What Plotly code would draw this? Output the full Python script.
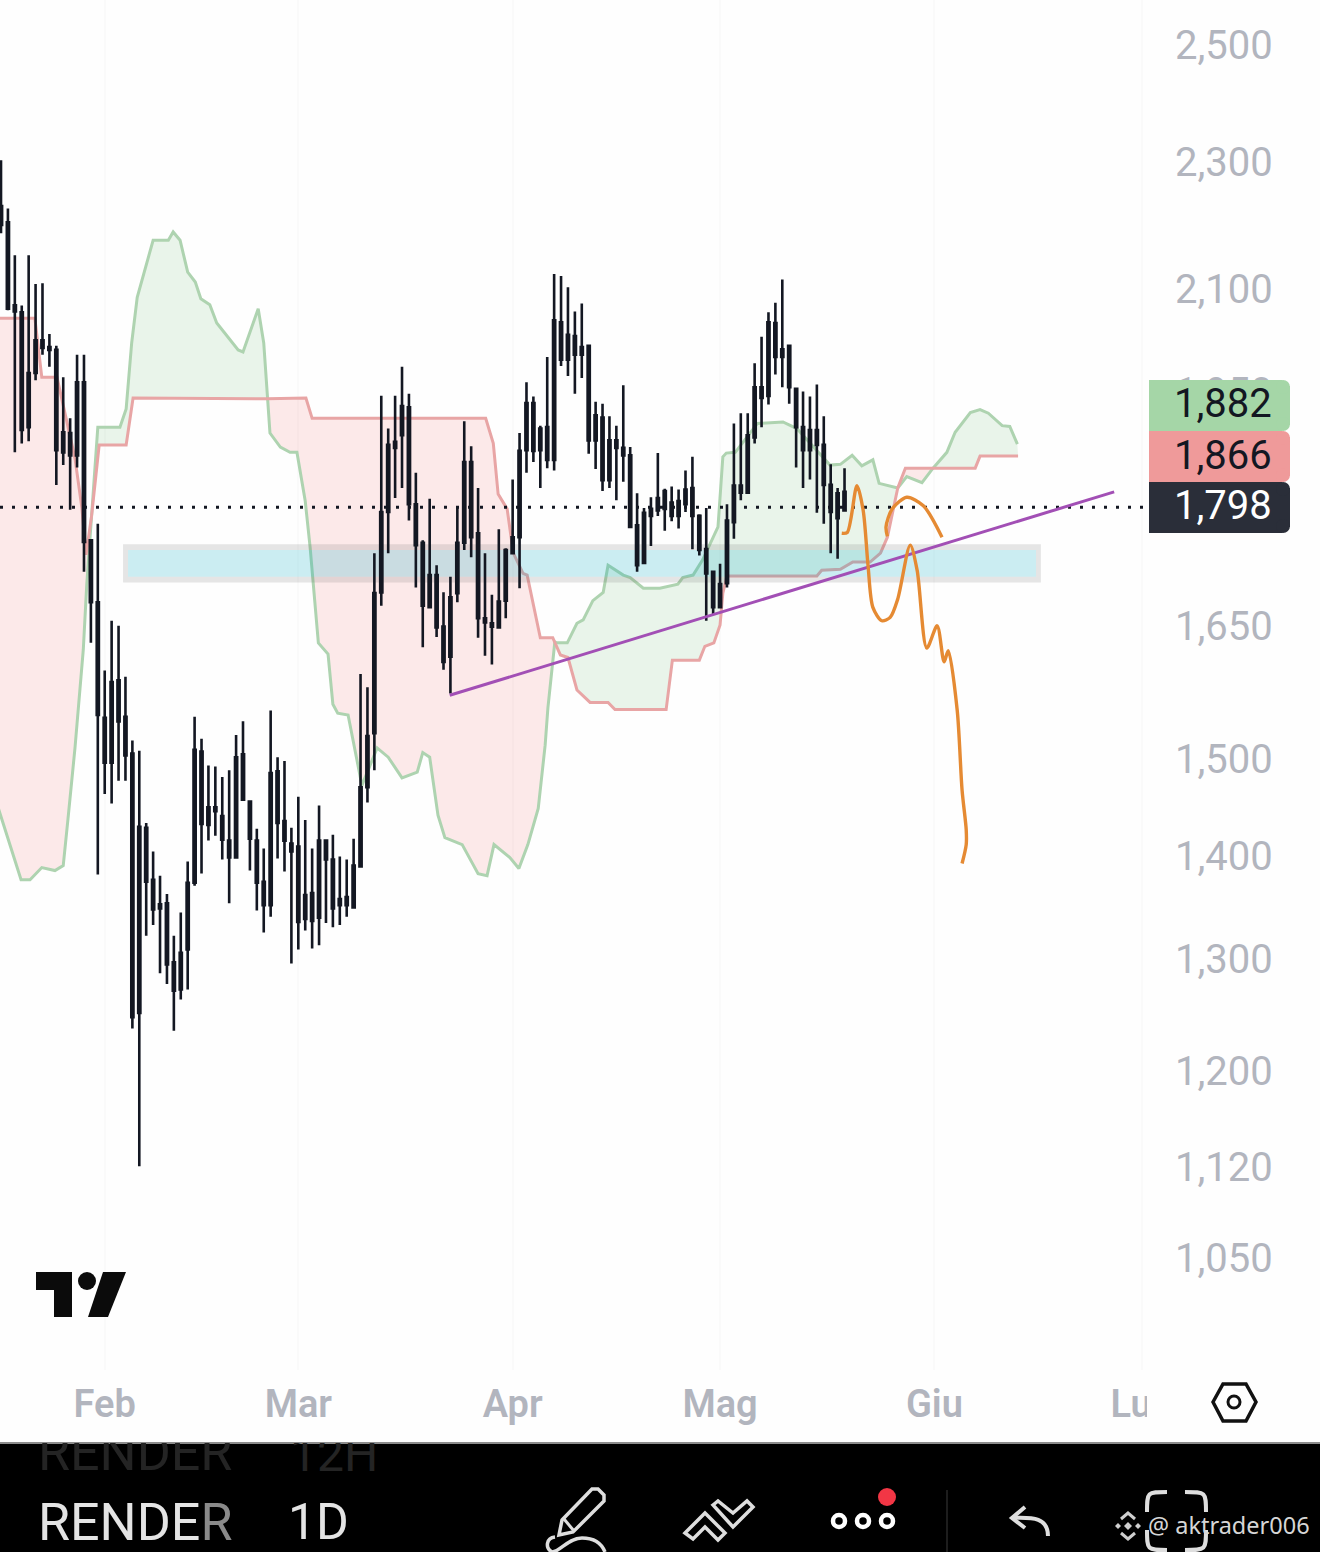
import pandas as pd
import plotly.graph_objects as go

start_day = pd.Timestamp("2025-01-17")

# daily candles (monochrome, so body_top/body_bottom instead of open/close)
highs = [2302, 2224, 2151, 2075, 2151, 2107, 2108, 2033, 2016, 1971, 1914, 2003, 2003, 1754, 1775, 1598, 1656, 1650, 1591, 1520, 1509, 1433, 1404, 1380, 1362, 1322, 1344, 1394, 1546, 1522, 1493, 1492, 1481, 1488, 1526, 1541, 1455, 1427, 1407, 1553, 1502, 1498, 1428, 1460, 1436, 1407, 1451, 1416, 1421, 1399, 1396, 1417, 1594, 1579, 1738, 1945, 1900, 1945, 1986, 1948, 1841, 1754, 1807, 1723, 1690, 1709, 1795, 1910, 1876, 1821, 1738, 1687, 1768, 1744, 1832, 1894, 1964, 1944, 1904, 2000, 2122, 2119, 2102, 2066, 2078, 2016, 1937, 1934, 1917, 1904, 1960, 1875, 1814, 1795, 1809, 1867, 1820, 1823, 1819, 1844, 1862, 1787, 1795, 1715, 1725, 1800, 1907, 1921, 1921, 1991, 2029, 2065, 2079, 2114, 2016, 1955, 1951, 1944, 1961, 1917, 1852, 1821, 1847]
body_top = [2228, 2202, 2075, 2065, 1977, 2024, 2024, 2014, 2010, 1895, 1894, 1964, 1964, 1754, 1678, 1545, 1585, 1587, 1546, 1506, 1429, 1428, 1376, 1352, 1353, 1297, 1306, 1373, 1510, 1508, 1449, 1449, 1440, 1415, 1502, 1505, 1455, 1415, 1374, 1485, 1487, 1435, 1412, 1409, 1361, 1363, 1415, 1415, 1396, 1357, 1359, 1390, 1470, 1525, 1689, 1790, 1878, 1882, 1931, 1929, 1800, 1751, 1711, 1711, 1649, 1684, 1751, 1855, 1855, 1763, 1659, 1653, 1679, 1742, 1758, 1870, 1935, 1935, 1900, 1902, 2053, 2050, 2032, 2030, 2014, 2016, 1918, 1915, 1884, 1884, 1874, 1864, 1773, 1789, 1794, 1808, 1817, 1802, 1804, 1819, 1821, 1785, 1743, 1715, 1700, 1779, 1824, 1824, 1891, 1957, 1957, 2050, 2049, 2011, 2016, 1955, 1902, 1898, 1898, 1878, 1825, 1814, 1816]
body_bottom = [2198, 2070, 2066, 1898, 1902, 1977, 2013, 2010, 1871, 1868, 1864, 1864, 1752, 1678, 1548, 1496, 1496, 1541, 1504, 1247, 1251, 1374, 1347, 1348, 1295, 1271, 1272, 1309, 1373, 1432, 1431, 1445, 1416, 1398, 1398, 1457, 1417, 1373, 1351, 1351, 1433, 1415, 1404, 1335, 1338, 1336, 1339, 1396, 1348, 1351, 1351, 1349, 1389, 1470, 1528, 1690, 1790, 1874, 1891, 1800, 1748, 1674, 1672, 1648, 1608, 1614, 1689, 1751, 1758, 1659, 1654, 1649, 1648, 1680, 1738, 1758, 1871, 1870, 1871, 1858, 1858, 1996, 1996, 2003, 2003, 1884, 1884, 1831, 1831, 1874, 1864, 1771, 1723, 1726, 1785, 1792, 1794, 1785, 1785, 1800, 1785, 1742, 1713, 1672, 1672, 1701, 1777, 1815, 1815, 1888, 1942, 1945, 2000, 2000, 1957, 1902, 1871, 1871, 1878, 1825, 1790, 1782, 1792]
lows = [2185, 2068, 1868, 1880, 1883, 1967, 2003, 1986, 1825, 1851, 1793, 1848, 1715, 1630, 1381, 1463, 1453, 1477, 1477, 1237, 1121, 1322, 1332, 1287, 1277, 1235, 1263, 1272, 1370, 1382, 1415, 1420, 1396, 1353, 1398, 1456, 1385, 1346, 1325, 1340, 1397, 1384, 1296, 1309, 1327, 1310, 1313, 1334, 1330, 1332, 1340, 1349, 1389, 1454, 1488, 1674, 1738, 1808, 1821, 1779, 1696, 1625, 1671, 1637, 1599, 1572, 1678, 1742, 1733, 1636, 1615, 1605, 1648, 1659, 1738, 1695, 1841, 1855, 1821, 1847, 1844, 1987, 1973, 1948, 1970, 1866, 1846, 1817, 1821, 1805, 1829, 1771, 1715, 1726, 1747, 1785, 1766, 1778, 1769, 1790, 1743, 1735, 1656, 1663, 1671, 1696, 1756, 1805, 1813, 1880, 1902, 1933, 1975, 1957, 1934, 1848, 1821, 1832, 1789, 1775, 1738, 1731, 1792]

# cloud edges, as days after start_day and price
span_a_days = [-1, 1.3, 2.9, 4.2, 5.9, 7.8, 9.0, 9.7, 10.7, 11.9, 12.4, 13.1, 14.0, 17.2, 18.1, 18.9, 19.7, 22.0, 24.2, 24.9, 25.9, 27.0, 28.1, 28.9, 30.2, 31.2, 34.3, 35.0, 37.2, 38.0, 38.5, 38.9, 40.4, 41.8, 42.8, 44.0, 44.7, 45.9, 47.3, 48.0, 48.7, 50.2, 52.2, 54.4, 56.0, 58.0, 60.2, 61.0, 62.0, 63.2, 64.2, 66.7, 69.0, 70.3, 71.3, 73.6, 74.9, 76.2, 77.7, 78.7, 79.1, 80.0, 80.1, 80.4, 81.9, 83.3, 84.2, 85.6, 87.1, 87.8, 90.0, 91.0, 92.9, 95.3, 96.8, 97.9, 98.6, 100.1, 101.5, 103.7, 104.4, 104.9, 106.2, 109.4, 113.1, 115.1, 119.9, 121.4, 123.1, 124.5, 126.1, 127.0, 129.7, 131.0, 133.2, 134.8, 136.8, 138.0, 140.2, 141.6, 142.8, 144.8, 145.9, 147.0]
span_a = [1462, 1412, 1376, 1376, 1388, 1385, 1390, 1438, 1512, 1622, 1699, 1785, 1902, 1902, 1927, 2020, 2087, 2174, 2174, 2187, 2174, 2125, 2110, 2085, 2076, 2049, 2010, 2007, 2070, 2020, 1941, 1894, 1875, 1868, 1868, 1804, 1746, 1630, 1617, 1560, 1550, 1548, 1472, 1512, 1502, 1480, 1486, 1507, 1502, 1441, 1418, 1411, 1382, 1380, 1411, 1398, 1387, 1411, 1448, 1515, 1556, 1625, 1631, 1630, 1630, 1653, 1657, 1680, 1690, 1723, 1711, 1708, 1695, 1695, 1698, 1700, 1708, 1711, 1730, 1771, 1862, 1867, 1868, 1907, 1909, 1900, 1851, 1852, 1864, 1850, 1858, 1827, 1821, 1836, 1828, 1847, 1868, 1895, 1922, 1926, 1921, 1904, 1903, 1879]
span_b_days = [-1, 4.9, 5.9, 8.1, 10.7, 11.7, 12.3, 13.1, 14.2, 18.1, 19.1, 38.5, 44.1, 45.0, 70.1, 71.2, 71.9, 73.2, 74.1, 75.5, 76.1, 78.0, 79.8, 80.1, 80.9, 82.0, 83.3, 85.2, 87.8, 88.8, 96.2, 97.1, 101.0, 101.8, 103.1, 104.0, 104.4, 105.0, 118.0, 118.7, 121.4, 123.2, 125.7, 127.2, 128.2, 129.7, 130.8, 134.8, 140.9, 141.6, 147.1]
span_b = [2056, 2056, 1971, 1971, 1860, 1795, 1736, 1785, 1878, 1878, 1942, 1941, 1942, 1914, 1914, 1880, 1813, 1794, 1738, 1713, 1711, 1636, 1636, 1631, 1616, 1613, 1576, 1562, 1562, 1554, 1554, 1610, 1610, 1626, 1630, 1651, 1689, 1710, 1710, 1717, 1718, 1727, 1727, 1738, 1758, 1821, 1847, 1847, 1847, 1863, 1863]
# where the two edges cross
cross_days = [-1, 13.1, 38.5, 80.1, 129.7, 134.8, 147.1]
cross_a_on_top = [False, True, False, True, False, True]

# drawings
zone_days = [18.37, 149.7]
zone_prices = [1709, 1742]
zone_edge_days = [17.65, 150.4]
zone_edge_prices = [1702, 1749]
trend_days = [64.9, 161.0]
trend_prices = [1570, 1816]
path1_days = [121.6, 122.4, 123.8, 124.7, 125.4, 126.1, 127.4, 128.6, 129.7, 131.5, 132.5, 133.9, 135.4, 136.4, 137.0, 138.3, 139.0, 139.6, 139.6, 139.0]
path1_prices = [1763, 1764, 1824, 1792, 1723, 1672, 1656, 1660, 1682, 1748, 1717, 1624, 1650, 1608, 1621, 1553, 1467, 1426, 1411, 1392]
path2_days = [128.2, 128.0, 128.9, 131.0, 133.4, 136.1]
path2_prices = [1759, 1771, 1794, 1809, 1798, 1758]
last_price = 1796

price_ticks = [2500, 2300, 2100, 1950, 1650, 1500, 1400, 1300, 1200, 1120, 1050]
month_ticks = ["2025-02-01", "2025-03-01", "2025-04-01", "2025-05-01", "2025-06-01", "2025-07-01"]
month_labels = ["Feb", "Mar", "Apr", "Mag", "Giu", "Lug"]
tag_labels = ["1,882", "1,866", "1,798"]

W, H = 1320, 1552
PLOT_W, PLOT_H = 1145, 1370
X_RANGE = ["2025-01-16 20:30", "2025-07-01 11:00"]
Y_RANGE = [2.9863, 3.4119]
GREY = "#b2b5be"
ICON = "#dedede"


def to_dates(days):
    return [start_day + pd.Timedelta(days=float(d)) for d in days]


def between(days, vals, lo, hi):
    pairs = [(d, v) for d, v in zip(days, vals) if lo <= d <= hi]
    return [p[0] for p in pairs], [p[1] for p in pairs]


def rect_loop(days, prices):
    return ([days[0], days[1], days[1], days[0], days[0]],
            [prices[0], prices[0], prices[1], prices[1], prices[0]])


# chrome helpers: screen pixels to paper fractions
def px(x):
    return round(x / PLOT_W, 5)


def py(y):
    return round((PLOT_H - y) / PLOT_H, 5)


def svg(points, close=False):
    path = "M " + " L ".join(f"{px(p[0])},{py(p[1])}" for p in points)
    return path + " Z" if close else path


def curve(*pts):
    # one cubic bezier path
    c = [f"{px(x)},{py(y)}" for x, y in pts]
    return "M " + c[0] + " C " + " ".join(c[1:])


def path_shape(path, fill=None, color=None, width=0):
    return dict(type="path", xref="paper", yref="paper", path=path, fillcolor=fill or "rgba(0,0,0,0)",
                line=dict(color=color or "rgba(0,0,0,0)", width=width))


def box(x0, y0, x1, y1, fill):
    return dict(type="rect", xref="paper", yref="paper", x0=px(x0), x1=px(x1), y0=py(y0), y1=py(y1),
                fillcolor=fill, line=dict(width=0))


def dot(cx, cy, r, fill=None, color=None, width=0):
    return dict(type="circle", xref="paper", yref="paper", x0=px(cx - r), x1=px(cx + r), y0=py(cy + r), y1=py(cy - r),
                fillcolor=fill or "rgba(0,0,0,0)", line=dict(color=color or "rgba(0,0,0,0)", width=width))


def label(x, y, text, size, color, family="Roboto", anchor="left"):
    return dict(xref="paper", yref="paper", x=px(x), y=py(y), text=text, showarrow=False, xanchor=anchor,
                yanchor="middle", font=dict(family=family, size=size, color=color), borderpad=0, borderwidth=0)


def ghost(x, text, size, box_w):
    # previous toolbar row scrolled away: clipped by the top of the footer
    return dict(xref="paper", yref="paper", x=px(x), y=py(1443), text=text, showarrow=False, xanchor="left",
                yanchor="top", height=40, width=box_w, valign="bottom", align="left",
                font=dict(family="Roboto", size=size, color="#242424"), borderpad=0, borderwidth=0)


fig = go.Figure()

# cloud fills, one polygon per stretch between crossings
for k, a_top in enumerate(cross_a_on_top):
    lo, hi = cross_days[k], cross_days[k + 1]
    da, va = between(span_a_days, span_a, lo, hi)
    db, vb = between(span_b_days, span_b, lo, hi)
    fig.add_trace(go.Scatter(x=to_dates(da + db[::-1]), y=va + vb[::-1], mode="lines", fill="toself",
                             line=dict(width=0), hoverinfo="skip",
                             fillcolor="rgba(67,160,71,0.11)" if a_top else "rgba(239,83,80,0.12)"))

fig.add_trace(go.Scatter(x=to_dates(span_a_days), y=span_a, mode="lines", line=dict(color="#aed3b0", width=3)))
fig.add_trace(go.Scatter(x=to_dates(span_b_days), y=span_b, mode="lines", line=dict(color="#e8a5a5", width=3)))

# rectangle drawing: soft fill plus a grey ring around it
in_x, in_y = rect_loop(zone_days, zone_prices)
out_x, out_y = rect_loop(zone_edge_days, zone_edge_prices)
fig.add_trace(go.Scatter(x=to_dates(in_x), y=in_y, mode="lines", fill="toself",
                         fillcolor="rgba(0,172,193,0.2)", line=dict(width=0)))
fig.add_trace(go.Scatter(x=to_dates(out_x + in_x[::-1] + out_x[:1]), y=out_y + in_y[::-1] + out_y[:1], mode="lines",
                         fill="toself", fillcolor="rgba(90,90,90,0.15)", line=dict(width=0)))

fig.add_trace(go.Scatter(x=X_RANGE, y=[last_price, last_price], mode="lines",
                         line=dict(color="#131722", width=3, dash="3px,9px")))

dates = pd.date_range(start_day, periods=len(highs), freq="D")
candle_style = dict(line=dict(color="#131722", width=2.6), fillcolor="#2a2e39")
fig.add_trace(go.Candlestick(x=dates, open=body_bottom, high=highs, low=lows, close=body_top,
                             increasing=candle_style, decreasing=candle_style, whiskerwidth=0,
                             xaxis="x2", yaxis="y2"))

fig.add_trace(go.Scatter(x=to_dates(trend_days), y=trend_prices, mode="lines", xaxis="x3", yaxis="y3",
                         line=dict(color="#a24fb5", width=3)))
for d, p in ((path1_days, path1_prices), (path2_days, path2_prices)):
    fig.add_trace(go.Scatter(x=to_dates(d), y=p, mode="lines", xaxis="x3", yaxis="y3",
                             line=dict(color="#e58a33", width=3.4, shape="spline", smoothing=0.8)))

shapes = [
    # cover for the clipped month label
    box(1147, 1375, 1205, 1435, "#fefefe"),
    # footer
    box(0, 1443, W, H, "#000000"),
    box(0, 1442, W, 1444, "#8c8c8c"),
    box(946.5, 1490, 947.5, H, "#3a3a3a"),
]

# last value tags
tag_tops = [380, 431, 482]
tag_colors = ["#a5d6a7", "#ef9a9a", "#2a2e39"]
tag_text = ["#131722", "#131722", "#ffffff"]
for top, col in zip(tag_tops, tag_colors):
    shapes.append(box(1149, top, 1282, top + 51, col))
    shapes.append(box(1280, top + 6, 1290, top + 45, col))
    for cy in (top + 7, top + 44):
        shapes.append(dot(1283, cy, 7, fill=col))

# logo
shapes.append(path_shape(svg([(36, 1272), (72, 1272), (72, 1317), (54, 1317), (54, 1290), (36, 1290)], True), fill="#0b0b0b"))
shapes.append(dot(87, 1281, 9, fill="#0b0b0b"))
shapes.append(path_shape(svg([(103, 1272), (126, 1272), (108, 1317), (88, 1317)], True), fill="#0b0b0b"))

# settings hexagon
shapes.append(path_shape(svg([(1213, 1402), (1223, 1384), (1246, 1384), (1256, 1402), (1246, 1421), (1223, 1421)], True), color="#111111", width=3.5))
shapes.append(dot(1234, 1402, 6, color="#111111", width=3))

# pencil
shapes.append(path_shape(svg([(562, 1520), (592, 1489), (598, 1489), (604, 1495), (604, 1501), (573, 1532), (559, 1535)], True), color=ICON, width=3.5))
shapes.append(path_shape(svg([(564, 1519), (574, 1531)]), color=ICON, width=3))
shapes.append(path_shape(curve((555, 1537), (546, 1538), (545, 1548), (552, 1552)), color=ICON, width=3.5))
shapes.append(path_shape(curve((552, 1552), (560, 1552), (568, 1538), (582, 1538)), color=ICON, width=3.5))
shapes.append(path_shape(curve((582, 1538), (592, 1538), (601, 1542), (605, 1552)), color=ICON, width=3.5))
# zigzag
shapes.append(path_shape(svg([(685, 1533), (705, 1513), (725, 1533), (718, 1540), (705, 1527), (693, 1539)], True), color=ICON, width=3.5))
shapes.append(path_shape(svg([(713, 1505), (718, 1501), (733, 1513), (747, 1501), (753, 1507), (733, 1527)], True), color=ICON, width=3.5))
# more dots
for cx in (839, 863, 887):
    shapes.append(dot(cx, 1521, 6, color="#ffffff", width=4.5))
shapes.append(dot(887, 1497, 9, fill="#f23645"))
# undo
shapes.append(path_shape(svg([(1025, 1507), (1012, 1518), (1025, 1528)]), color=ICON, width=4))
shapes.append(path_shape(curve((1012, 1518), (1034, 1517), (1048, 1518), (1048, 1536)), color=ICON, width=4))
# fullscreen brackets
for a, b, c, d in [((1167, 1492), (1147, 1492), (1147, 1492), (1147, 1512)),
                   ((1185, 1492), (1206, 1492), (1206, 1492), (1206, 1512)),
                   ((1147, 1530), (1147, 1550), (1147, 1550), (1167, 1550)),
                   ((1206, 1530), (1206, 1550), (1206, 1550), (1185, 1550))]:
    shapes.append(path_shape(curve(a, b, c, d), color=ICON, width=4))
# watermark mark
shapes.append(path_shape(svg([(1128, 1522), (1132, 1526), (1128, 1530), (1124, 1526)], True), fill="#cfcfcf"))
shapes.append(path_shape(svg([(1118, 1523), (1121, 1526), (1118, 1529), (1115, 1526)], True), fill="#cfcfcf"))
shapes.append(path_shape(svg([(1138, 1523), (1141, 1526), (1138, 1529), (1135, 1526)], True), fill="#cfcfcf"))
shapes.append(path_shape(svg([(1121, 1519), (1128, 1513), (1135, 1519)]), color="#cfcfcf", width=3))
shapes.append(path_shape(svg([(1121, 1533), (1128, 1539), (1135, 1533)]), color="#cfcfcf", width=3))

annotations = [
    label(1272, top + 24, txt, 40, col, "Roboto", "right")
    for top, txt, col in zip(tag_tops, tag_labels, tag_text)
]
annotations += [
    ghost(38, "RENDER", 52, 200),
    ghost(290, "12H", 48, 95),
    label(38, 1522, 'RENDE<span style="color:#8a8a8a">R</span>', 52, "#e4e4e4"),
    label(288, 1522, "1D", 50, "#e4e4e4"),
    label(1148, 1525, "@ aktrader006", 23.5, "#d6d6d6", "Noto Sans"),
]

fig.update_layout(
    width=W, height=H, margin=dict(l=0, r=W - PLOT_W, t=0, b=H - PLOT_H, pad=0),
    paper_bgcolor="#fefefe", plot_bgcolor="#fefefe", showlegend=False,
    boxgap=0.55, hovermode=False,
    xaxis=dict(type="date", range=X_RANGE, tickvals=month_ticks, ticktext=month_labels, showgrid=True,
               gridcolor="#fafafa", gridwidth=2, zeroline=False, showline=False, ticks="outside", ticklen=0,
               tickcolor="rgba(0,0,0,0)", tickfont=dict(family="Roboto", size=38, color=GREY, weight=600),
               tickangle=0),
    yaxis=dict(type="log", range=Y_RANGE, side="right", tickvals=price_ticks,
               ticktext=[f"{v:,}" for v in price_ticks], showgrid=False, zeroline=False, showline=False,
               ticks="outside", ticklen=21, tickcolor="rgba(0,0,0,0)",
               tickfont=dict(family="Roboto", size=40, color=GREY)),
    xaxis2=dict(type="date", range=X_RANGE, overlaying="x", visible=False, rangeslider=dict(visible=False)),
    yaxis2=dict(type="log", range=Y_RANGE, overlaying="y", side="right", visible=False),
    xaxis3=dict(type="date", range=X_RANGE, overlaying="x", visible=False),
    yaxis3=dict(type="log", range=Y_RANGE, overlaying="y", side="right", visible=False),
    shapes=shapes, annotations=annotations,
)

fig.write_html("out.html", config=dict(displayModeBar=False), post_script="document.body.style.margin='0';")
